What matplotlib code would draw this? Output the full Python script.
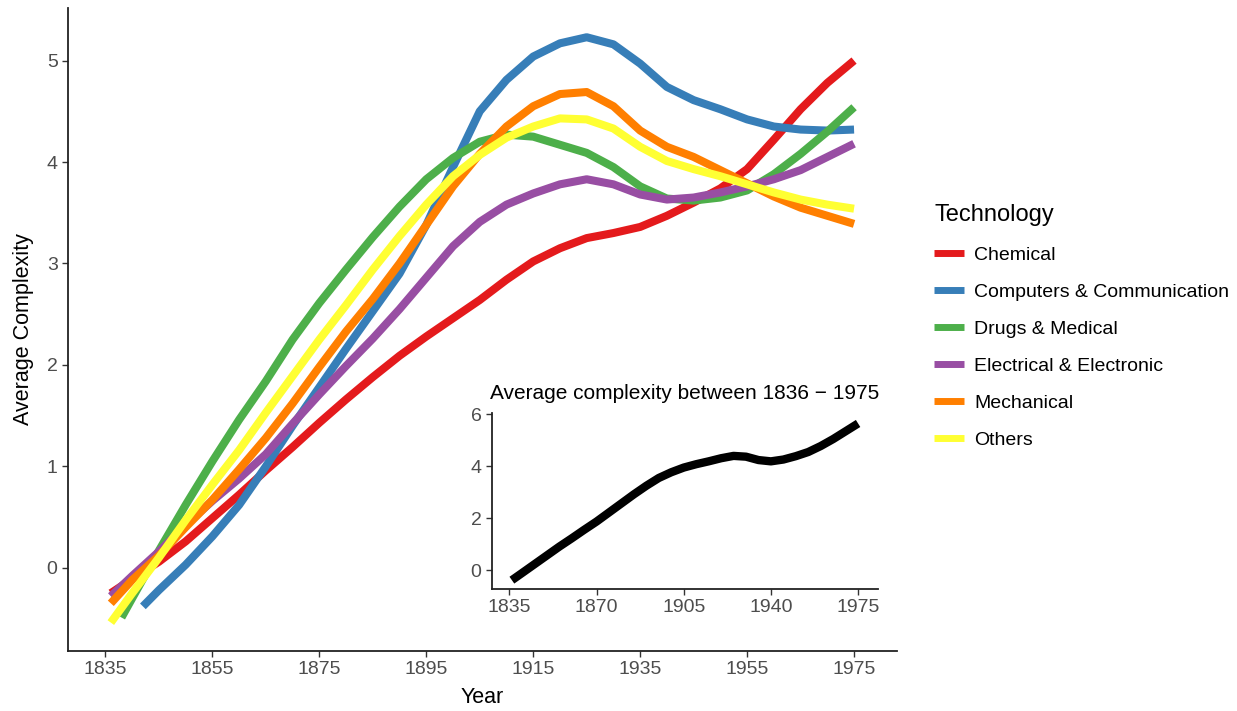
import matplotlib
matplotlib.use("Agg")
import matplotlib.pyplot as plt

plt.rcParams['font.family'] = ['Liberation Sans', 'DejaVu Sans']

# main chart: smoothed average complexity per technology
years = [1836, 1840, 1845, 1850, 1855, 1860, 1865, 1870, 1875, 1880, 1885, 1890,
         1895, 1900, 1905, 1910, 1915, 1920, 1925, 1930, 1935, 1940, 1945, 1950,
         1955, 1960, 1965, 1970, 1975]

chemical = [-0.25, -0.11, 0.06, 0.26, 0.49, 0.72, 0.96, 1.19, 1.43, 1.66, 1.88, 2.09,
            2.28, 2.46, 2.64, 2.84, 3.02, 3.15, 3.25, 3.30, 3.36, 3.47, 3.60, 3.74,
            3.93, 4.22, 4.52, 4.78, 5.00]

years_comp = [1842, 1845, 1850, 1855, 1860, 1865, 1870, 1875, 1880, 1885, 1890,
              1895, 1900, 1905, 1910, 1915, 1920, 1925, 1930, 1935, 1940, 1945, 1950,
              1955, 1960, 1965, 1970, 1975]
computers = [-0.38, -0.22, 0.03, 0.31, 0.62, 1.00, 1.40, 1.78, 2.16, 2.53, 2.90,
             3.38, 3.95, 4.50, 4.81, 5.04, 5.17, 5.23, 5.16, 4.97, 4.74, 4.61, 4.52,
             4.42, 4.35, 4.32, 4.31, 4.32]

years_drugs = [1838, 1840, 1845, 1850, 1855, 1860, 1865, 1870, 1875, 1880, 1885, 1890,
               1895, 1900, 1905, 1910, 1915, 1920, 1925, 1930, 1935, 1940, 1945, 1950,
               1955, 1960, 1965, 1970, 1975]
drugs = [-0.49, -0.30, 0.17, 0.62, 1.05, 1.46, 1.84, 2.25, 2.61, 2.94, 3.26, 3.56,
         3.83, 4.04, 4.20, 4.27, 4.25, 4.17, 4.09, 3.95, 3.76, 3.64, 3.62, 3.65,
         3.72, 3.88, 4.08, 4.30, 4.54]

electrical = [-0.28, -0.08, 0.16, 0.42, 0.66, 0.88, 1.12, 1.42, 1.71, 1.99, 2.26, 2.55,
              2.86, 3.17, 3.41, 3.58, 3.69, 3.78, 3.83, 3.78, 3.68, 3.63, 3.65, 3.70,
              3.76, 3.83, 3.92, 4.05, 4.18]

mechanical = [-0.35, -0.12, 0.12, 0.40, 0.67, 0.97, 1.28, 1.62, 1.98, 2.33, 2.65, 3.00,
              3.38, 3.76, 4.08, 4.35, 4.55, 4.67, 4.69, 4.55, 4.31, 4.15, 4.05, 3.92,
              3.79, 3.66, 3.55, 3.47, 3.39]

others = [-0.54, -0.25, 0.10, 0.47, 0.82, 1.16, 1.53, 1.89, 2.25, 2.59, 2.94, 3.27,
          3.58, 3.86, 4.07, 4.24, 4.35, 4.43, 4.42, 4.33, 4.15, 4.01, 3.93, 3.86,
          3.78, 3.70, 3.63, 3.58, 3.54]

# inset: overall average
overall = [-0.39, -0.12, 0.22, 0.56, 0.90, 1.22, 1.55, 1.87, 2.22, 2.57, 2.92, 3.25,
           3.55, 3.77, 3.95, 4.08, 4.19, 4.31, 4.40, 4.37, 4.24, 4.19, 4.26, 4.39,
           4.55, 4.78, 5.05, 5.35, 5.65]

series = [
    ("Chemical", years, chemical, "#E41A1C"),
    ("Computers & Communication", years_comp, computers, "#377EB8"),
    ("Drugs & Medical", years_drugs, drugs, "#4DAF4A"),
    ("Electrical & Electronic", years, electrical, "#984EA3"),
    ("Mechanical", years, mechanical, "#FF7F00"),
    ("Others", years, others, "#FFFF33"),
]

tick_grey = "#4D4D4D"

fig = plt.figure(figsize=(12.37, 7.11), dpi=100)
ax = fig.add_axes([0.055, 0.0844, 0.670, 0.9046])

for name, xs, ys, col in series:
    ax.plot(xs, ys, color=col, lw=5.8, label=name,
            solid_capstyle="butt", solid_joinstyle="round")

ax.set_xlim(1828, 1983)
ax.set_ylim(-0.82, 5.52)
ax.set_xticks(range(1835, 1976, 20))
ax.set_yticks(range(0, 6))
for s in ["top", "right"]:
    ax.spines[s].set_visible(False)
for s in ["left", "bottom"]:
    ax.spines[s].set_linewidth(1.3)
    ax.spines[s].set_color("#222222")
ax.tick_params(labelsize=14, labelcolor=tick_grey, color="#333333",
               length=4, width=1)
ax.set_xlabel("Year", fontsize=15.5, labelpad=6)
ax.set_ylabel("Average Complexity", fontsize=15.5, labelpad=9)

leg = ax.legend(loc="upper left", bbox_to_anchor=(0.741, 0.737),
                bbox_transform=fig.transFigure, frameon=False,
                title="Technology", title_fontsize=17, fontsize=14,
                handlelength=1.55, handletextpad=0.5, labelspacing=1.0,
                alignment="left")
leg._legend_box.sep = 14  # tighter gap under the title
for line in leg.get_lines():
    line.set_linewidth(5)

# inset
axi = fig.add_axes([0.3977, 0.1716, 0.3121, 0.2474])
axi.plot(years, overall, color="black", lw=6, solid_capstyle="butt",
         solid_joinstyle="round")
axi.set_xlim(1828, 1983)
axi.set_ylim(-0.73, 6.05)
axi.set_xticks(range(1835, 1976, 35))
axi.set_yticks(range(0, 7, 2))
for s in ["top", "right"]:
    axi.spines[s].set_visible(False)
for s in ["left", "bottom"]:
    axi.spines[s].set_linewidth(1.3)
    axi.spines[s].set_color("#222222")
axi.tick_params(labelsize=14, labelcolor=tick_grey, color="#333333",
                length=4, width=1)
axi.patch.set_alpha(0)
axi.set_title("Average complexity between 1836 \u2212 1975", fontsize=15, pad=10)

fig.savefig("out.png", dpi=100)
